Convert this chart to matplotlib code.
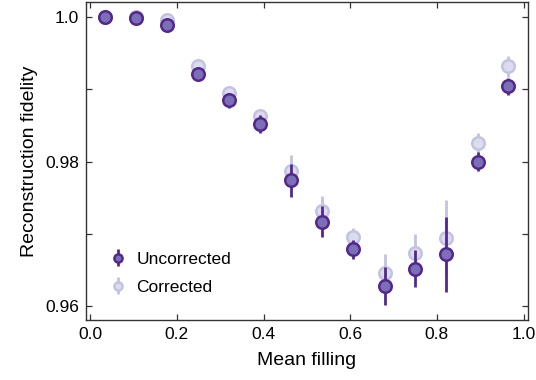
import numpy as np
import matplotlib.pyplot as plt

plt.rcParams['font.family'] = ['Liberation Sans', 'DejaVu Sans']

# mean filling values
filling = [0.035, 0.107, 0.177, 0.249, 0.320, 0.392, 0.464,
           0.535, 0.607, 0.680, 0.750, 0.821, 0.894, 0.965]

# uncorrected fidelity and errors
fid_unc = [1.0000, 0.99986, 0.99884, 0.99215, 0.98845, 0.98518, 0.97742,
           0.97169, 0.96782, 0.96273, 0.96518, 0.96717, 0.97996, 0.99039]
err_unc = [0.0002, 0.0002, 0.0003, 0.0005, 0.0011, 0.0012, 0.0023,
           0.0021, 0.0013, 0.0026, 0.0026, 0.0052, 0.0013, 0.0012]

# corrected fidelity and errors
fid_cor = [1.0000, 1.0000, 0.99953, 0.99316, 0.98947, 0.98632, 0.97875,
           0.97317, 0.96953, 0.96462, 0.96731, 0.96947, 0.98255, 0.99316]
err_cor = [0.0002, 0.0002, 0.0003, 0.0005, 0.0008, 0.0008, 0.0022,
           0.0020, 0.0012, 0.0026, 0.0026, 0.0052, 0.0014, 0.0014]

dark_edge = '#54278f'
dark_face = '#7b6fb5'
light_edge = '#c2c3e0'
light_face = '#dcdcee'

fig = plt.figure(figsize=(5.36, 3.8), dpi=100)
ax = fig.add_axes([0.160, 0.158, 0.825, 0.837])

hc = ax.errorbar(filling, fid_cor, yerr=err_cor, fmt='o', ms=9,
                 mfc=light_face, mec=light_edge, mew=1.8,
                 ecolor=light_edge, elinewidth=2.0, capsize=0, zorder=2,
                 label='Corrected')
hu = ax.errorbar(filling, fid_unc, yerr=err_unc, fmt='o', ms=9,
                 mfc=dark_face, mec=dark_edge, mew=1.8,
                 ecolor=dark_edge, elinewidth=2.0, capsize=0, zorder=3,
                 label='Uncorrected')

ax.set_xlim(-0.01, 1.01)
ax.set_ylim(0.95806, 1.0021)
ax.set_xticks([0.0, 0.2, 0.4, 0.6, 0.8, 1.0])
ax.set_xticklabels(['0.0', '0.2', '0.4', '0.6', '0.8', '1.0'])
ax.set_yticks([0.96, 0.98, 1.0])
ax.set_yticklabels(['0.96', '0.98', '1.0'])
ax.set_yticks([0.97, 0.99], minor=True)
ax.tick_params(which='both', direction='in', top=True, right=True,
               labelsize=12.5, length=4, width=0.9, colors='#333333',
               labelcolor='black', pad=5)
for s in ax.spines.values():
    s.set_linewidth(1.0)
    s.set_color('#333333')

ax.set_xlabel('Mean filling', fontsize=14, labelpad=7)
ax.set_ylabel('Reconstruction fidelity', fontsize=14, labelpad=5)

leg = ax.legend(handles=[hu, hc], loc='lower left', frameon=False,
                fontsize=12.5, bbox_to_anchor=(0.02, 0.03),
                handlelength=0.9, handletextpad=0.6, labelspacing=0.75,
                markerscale=0.65)

fig.savefig('out.png', dpi=100)
